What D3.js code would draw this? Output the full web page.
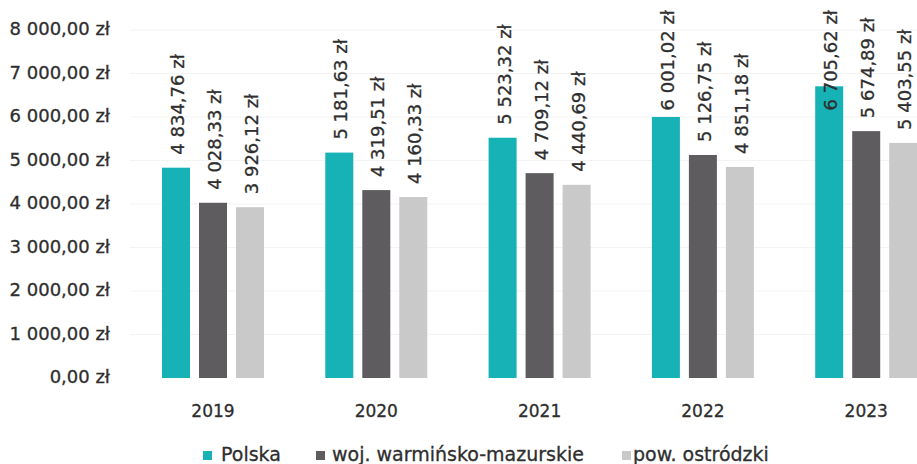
<!DOCTYPE html>
<html>
<head>
<meta charset="utf-8">
<script src="https://cdn.jsdelivr.net/npm/d3@7"></script>
<style>
  html, body { margin: 0; padding: 0; background: #ffffff; }
  svg { display: block; font-family: "DejaVu Sans", sans-serif; }
  svg text { stroke: #2e2e2e; stroke-width: 0.3px; }
</style>
</head>
<body>
<svg id="chart" width="917" height="464"></svg>
<script>
const years = ["2019", "2020", "2021", "2022", "2023"];
const seriesNames = ["Polska", "woj. warmińsko-mazurskie", "pow. ostródzki"];
const polska = [4834.76, 5181.63, 5523.32, 6001.02, 6705.62];
const wojewodztwo = [4028.33, 4319.51, 4709.12, 5126.75, 5674.89];
const powiat = [3926.12, 4160.33, 4440.69, 4851.18, 5403.55];
const yTicks = [0, 1000, 2000, 3000, 4000, 5000, 6000, 7000, 8000];
const colors = ["#16b2b5", "#5e5c5e", "#c9c9c9"];

const seriesValues = [polska, wojewodztwo, powiat];
const data = years.map((yr, i) => ({
  year: yr,
  values: seriesNames.map((s, j) => ({ series: s, value: seriesValues[j][i], idx: j }))
}));

const pl = d3.formatLocale({ decimal: ",", thousands: " ", grouping: [3], currency: ["", " zł"] });
const fmt = v => pl.format(",.2f")(v) + " zł";

const svg = d3.select("#chart");
const textColor = "#2e2e2e";

const y = d3.scaleLinear().domain([0, 8000]).range([378, 30]);
const x0 = d3.scaleBand().domain(years).range([131.35, 947.85]).paddingInner(0).paddingOuter(0);
const groupW = 102;
const x1 = d3.scaleBand().domain(seriesNames).range([0, groupW]).paddingInner(0.243).paddingOuter(0);

// gridlines
svg.append("g").selectAll("line").data(yTicks.slice(1)).join("line")
  .attr("x1", 130).attr("x2", 917)
  .attr("y1", d => y(d)).attr("y2", d => y(d))
  .attr("stroke", "#f3f3f3").attr("stroke-width", 1);

// y axis labels
svg.append("g").selectAll("text").data(yTicks).join("text")
  .attr("x", 110).attr("y", d => y(d))
  .attr("text-anchor", "end").attr("dominant-baseline", "middle")
  .attr("font-size", 18).attr("fill", textColor)
  .text(d => fmt(d));

// groups
const groups = svg.append("g").selectAll("g").data(data).join("g")
  .attr("transform", d => `translate(${x0(d.year) + (x0.bandwidth() - groupW) / 2},0)`);

groups.selectAll("rect").data(d => d.values).join("rect")
  .attr("x", d => x1(d.series))
  .attr("width", x1.bandwidth())
  .attr("y", d => y(d.value))
  .attr("height", d => y(0) - y(d.value))
  .attr("fill", d => colors[d.idx]);

const labels = groups.selectAll("text.val").data(d => d.values).join("text")
  .attr("class", "val")
  .attr("text-anchor", "start").attr("dominant-baseline", "middle")
  .attr("font-size", 18).attr("fill", textColor)
  .text(d => fmt(d.value));
labels.each(function(d) {
  const len = this.getComputedTextLength();
  const start = Math.max(y(d.value) - 13, 10 + len);
  d3.select(this).attr("transform",
    `translate(${x1(d.series) + x1.bandwidth() / 2 + 3},${start}) rotate(-90)`);
});

// year labels
svg.append("g").selectAll("text").data(years).join("text")
  .attr("x", d => x0(d) + x0.bandwidth() / 2)
  .attr("y", 417)
  .attr("text-anchor", "middle")
  .attr("font-size", 17).attr("fill", textColor)
  .text(d => d);

// legend
const legendX = [203, 316, 622];
const legend = svg.append("g").selectAll("g").data(seriesNames).join("g")
  .attr("transform", (d, i) => `translate(${legendX[i]},0)`);
legend.append("rect")
  .attr("x", 0).attr("y", 451).attr("width", 9).attr("height", 9)
  .attr("fill", (d, i) => colors[i]);
legend.append("text")
  .attr("x", (d, i) => i === 0 ? 18 : (i === 1 ? 16 : 11))
  .attr("y", 461)
  .attr("font-size", 19).attr("fill", textColor)
  .text(d => d);
</script>
</body>
</html>
